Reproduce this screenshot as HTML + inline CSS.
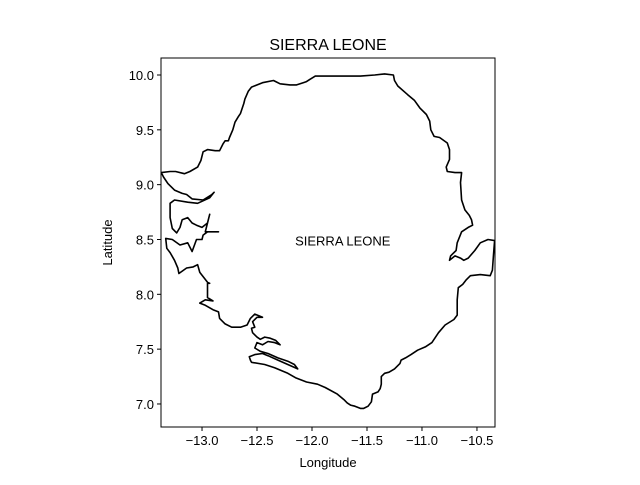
<!DOCTYPE html>
<html><head><meta charset="utf-8"><style>
body{margin:0;background:#fff;}
svg text{font-family:"Liberation Sans","DejaVu Sans",sans-serif;fill:#000;}
</style></head><body>
<svg id="chart" width="640" height="480" xmlns="http://www.w3.org/2000/svg"></svg>
<script>
const outlineLon=[-13.43,-13.37,-13.29,-13.24,-13.16,-13.11,-13.04,-13.01,-12.99,-12.95,-12.88,-12.84,-12.81,-12.79,-12.76,-12.75,-12.72,-12.70,-12.67,-12.65,-12.62,-12.61,-12.58,-12.55,-12.45,-12.35,-12.29,-12.20,-12.14,-12.08,-12.05,-12.02,-11.97,-11.75,-11.56,-11.43,-11.34,-11.26,-11.25,-11.22,-11.13,-11.07,-11.02,-10.96,-10.93,-10.92,-10.89,-10.84,-10.77,-10.75,-10.75,-10.78,-10.77,-10.70,-10.64,-10.65,-10.64,-10.61,-10.57,-10.55,-10.54,-10.58,-10.64,-10.68,-10.69,-10.74,-10.75,-10.70,-10.65,-10.62,-10.58,-10.52,-10.47,-10.40,-10.34,-10.35,-10.36,-10.38,-10.47,-10.56,-10.60,-10.63,-10.67,-10.68,-10.68,-10.71,-10.79,-10.85,-10.91,-10.97,-11.04,-11.10,-11.15,-11.19,-11.20,-11.25,-11.30,-11.34,-11.37,-11.37,-11.38,-11.40,-11.45,-11.46,-11.49,-11.53,-11.56,-11.61,-11.65,-11.68,-11.71,-11.77,-11.88,-11.95,-12.05,-12.15,-12.22,-12.34,-12.43,-12.55,
-12.56,-12.57,-12.52,-12.45,-12.40,-12.31,-12.22,-12.13,-12.16,-12.22,-12.31,-12.40,-12.47,-12.52,-12.50,-12.45,-12.40,-12.34,-12.29,-12.33,-12.38,-12.43,-12.47,-12.50,-12.54,-12.55,-12.52,-12.54,-12.50,-12.45,-12.52,-12.56,-12.59,-12.65,-12.73,-12.79,-12.84,-12.85,-12.90,-12.97,-13.02,-12.97,-12.90,-12.95,-12.95,-12.93,-12.95,-13.02,-13.04,-13.08,-13.14,-13.21,-13.22,-13.25,-13.29,-13.32,-13.33,-13.27,-13.20,-13.13,-13.09,-13.05,-13.00,-12.99,-12.95,-12.85,-12.97,-12.95,-12.93,-12.95,-13.00,-13.05,-13.09,-13.13,-13.18,-13.20,-13.23,-13.27,-13.29,-13.29,-13.25,-13.13,-13.04,-12.93,-12.89,-12.91,-12.99,-13.09,-13.14,-13.18,-13.25,-13.31,-13.35,-13.37,-13.43];
const outlineLat=[9.11,9.11,9.12,9.12,9.10,9.12,9.16,9.22,9.30,9.32,9.31,9.31,9.37,9.40,9.40,9.43,9.50,9.57,9.62,9.65,9.74,9.78,9.85,9.89,9.93,9.95,9.92,9.91,9.91,9.93,9.94,9.96,9.99,9.99,9.99,10.00,10.01,10.00,9.95,9.90,9.82,9.77,9.70,9.64,9.58,9.50,9.44,9.43,9.38,9.32,9.23,9.16,9.12,9.11,9.11,9.02,8.86,8.77,8.72,8.68,8.63,8.61,8.57,8.47,8.40,8.35,8.31,8.35,8.33,8.31,8.33,8.40,8.47,8.50,8.49,8.36,8.22,8.17,8.18,8.17,8.13,8.09,8.06,7.95,7.81,7.77,7.72,7.65,7.56,7.52,7.49,7.45,7.42,7.40,7.37,7.32,7.29,7.28,7.25,7.18,7.14,7.11,7.09,7.02,6.98,6.96,6.96,6.98,6.99,7.01,7.04,7.09,7.15,7.18,7.20,7.24,7.28,7.33,7.36,7.38,
7.40,7.43,7.45,7.46,7.44,7.40,7.36,7.32,7.36,7.39,7.42,7.46,7.48,7.51,7.56,7.54,7.57,7.56,7.54,7.58,7.60,7.61,7.59,7.61,7.65,7.69,7.70,7.75,7.79,7.79,7.82,7.78,7.72,7.70,7.70,7.73,7.78,7.84,7.86,7.90,7.92,7.95,7.94,7.97,8.10,8.10,8.11,8.20,8.27,8.25,8.24,8.19,8.24,8.31,8.38,8.42,8.51,8.50,8.45,8.47,8.39,8.50,8.50,8.54,8.57,8.57,8.57,8.65,8.73,8.65,8.61,8.63,8.65,8.70,8.68,8.61,8.56,8.60,8.70,8.83,8.86,8.84,8.83,8.88,8.93,8.91,8.86,8.87,8.91,8.92,8.95,9.01,9.07,9.11,9.11];
const xTicks=[-13.0,-12.5,-12.0,-11.5,-11.0,-10.5];
const xTickLabels=["\u221213.0","\u221212.5","\u221212.0","\u221211.5","\u221211.0","\u221210.5"];
const yTicks=[7.0,7.5,8.0,8.5,9.0,9.5,10.0];
const yTickLabels=["7.0","7.5","8.0","8.5","9.0","9.5","10.0"];
const labelLon=-11.72, labelLat=8.49;

const NS='http://www.w3.org/2000/svg';
const svg=document.getElementById('chart');
const L=161,R=495,T=58,B=427;
const xMin=-13.373,xMax=-10.336,yMin=6.79,yMax=10.155;
const sx=v=>L+(v-xMin)/(xMax-xMin)*(R-L);
const sy=v=>B-(v-yMin)/(yMax-yMin)*(B-T);
function mk(tag,attrs,txt){const e=document.createElementNS(NS,tag);for(const k in attrs)e.setAttribute(k,attrs[k]);if(txt!==undefined)e.textContent=txt;svg.appendChild(e);return e;}

const defs=mk('defs',{});
const cp=document.createElementNS(NS,'clipPath');cp.setAttribute('id','clip');
const cr=document.createElementNS(NS,'rect');cr.setAttribute('x',L);cr.setAttribute('y',T);cr.setAttribute('width',R-L);cr.setAttribute('height',B-T);
cp.appendChild(cr);defs.appendChild(cp);

let d='';
for(let i=0;i<outlineLon.length;i++){d+=(i?'L':'M')+sx(outlineLon[i]).toFixed(1)+','+sy(outlineLat[i]).toFixed(1);}
const path=mk('path',{d:d,fill:'none',stroke:'#000','stroke-width':1.6,'stroke-linejoin':'round','clip-path':'url(#clip)'});



const frame=mk('rect',{x:L,y:T,width:R-L,height:B-T,fill:'none',stroke:'#000','stroke-width':1});



xTicks.forEach((v,i)=>{
  const x=sx(v);
  const t=mk('line',{x1:x,x2:x,y1:B,y2:B+4,stroke:'#000','stroke-width':1});
  
  
  const lb=mk('text',{x:x,y:B+18,'font-size':13,'text-anchor':'middle'},xTickLabels[i]);
  
  
});
yTicks.forEach((v,i)=>{
  const y=sy(v);
  const t=mk('line',{x1:L-4,x2:L,y1:y,y2:y,stroke:'#000','stroke-width':1});
  
  
  const lb=mk('text',{x:L-7,y:y+5,'font-size':13,'text-anchor':'end'},yTickLabels[i]);
  
  
});
const lbl=mk('text',{x:sx(labelLon),y:sy(labelLat)+5,'font-size':13,'text-anchor':'middle'},'SIERRA LEONE');


const title=mk('text',{x:(L+R)/2,y:50,'font-size':16,'text-anchor':'middle'},'SIERRA LEONE');


const xt=mk('text',{x:(L+R)/2,y:467,'font-size':13,'text-anchor':'middle'},'Longitude');


const yt=mk('text',{x:112,y:(T+B)/2,'font-size':13,'text-anchor':'middle',transform:'rotate(-90 112 '+((T+B)/2)+')'},'Latitude');


</script>
</body></html>
